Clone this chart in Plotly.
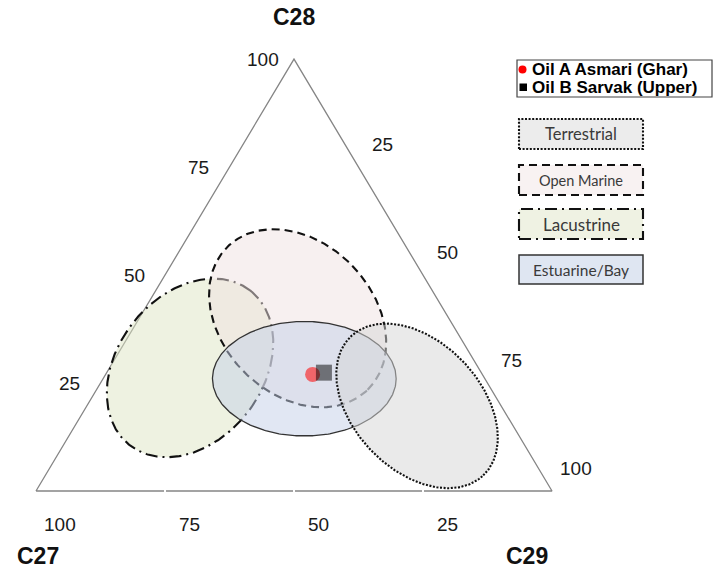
import numpy as np
import plotly.graph_objects as go

# ---------------------------------------------------------------
# Sterane distribution (C27 / C28 / C29, %) of the two oils
# ---------------------------------------------------------------
sample_names = ["Oil A Asmari (Ghar)", "Oil B Sarvak (Upper)"]
sample_c27 = [32.9, 30.5]
sample_c28 = [27.0, 27.4]
sample_c29 = [40.1, 42.1]

# Depositional-environment fields: centre composition (%)
field_names = ["Lacustrine", "Open Marine", "Estuarine/Bay", "Terrestrial"]
field_c27 = [55.9, 29.3, 35.0, 16.3]
field_c28 = [28.5, 40.0, 26.0, 19.7]
field_c29 = [15.6, 30.7, 39.0, 64.0]

# Axis tick values
tick_values = [25, 50, 75, 100]

# ---------------------------------------------------------------
# Geometry / styling
# ---------------------------------------------------------------
W, H = 713, 574
PX = 5.16            # pixels per composition unit
K = 0.837            # triangle height relative to its base
X0_PX, BASE_PX = 36, 491   # pixel position of the C27 corner

# field outline: semi-major, semi-minor (composition units), tilt (deg)
field_shape = {
    "Lacustrine":    (19.0, 14.1, 52.0),
    "Open Marine":   (19.4, 14.7, -45.6),
    "Estuarine/Bay": (17.8, 11.1, 0.0),
    "Terrestrial":   (18.6, 12.4, -46.4),
}
field_style = {
    "Lacustrine":    dict(fill="rgba(221,229,195,0.5)", line="#111111", width=2.1, dash="12px,5px,2px,5px"),
    "Open Marine":   dict(fill="rgba(239,225,225,0.5)", line="#111111", width=2.1, dash="8px,5px"),
    "Estuarine/Bay": dict(fill="rgba(195,207,232,0.5)", line="#333333", width=1.3, dash="solid"),
    "Terrestrial":   dict(fill="rgba(214,214,214,0.5)", line="#111111", width=2.1, dash="2px,1.6px"),
}
legend_box = {  # pixel boxes for the environment key (top, bottom, font size)
    "Terrestrial": (119, 149, 16.5),
    "Open Marine": (165, 195, 14.5),
    "Lacustrine": (209, 239, 17),
    "Estuarine/Bay": (255, 284, 15.5),
}
legend_order = ["Terrestrial", "Open Marine", "Lacustrine", "Estuarine/Bay"]
legend_fill = {
    "Terrestrial": "#ececec",
    "Open Marine": "#f8f2f2",
    "Lacustrine": "#eff2e3",
    "Estuarine/Bay": "#dfe6f2",
}


def to_xy(c27, c28, c29):
    c27, c28, c29 = (np.asarray(v, dtype=float) for v in (c27, c28, c29))
    tot = c27 + c28 + c29
    a, c = c28 / tot * 100, c29 / tot * 100
    return c + a / 2, a * K


def ellipse(cx, cy, a, b, ang):
    t = np.linspace(0, 2 * np.pi, 361)
    r = np.deg2rad(ang)
    x = cx + a * np.cos(t) * np.cos(r) - b * np.sin(t) * np.sin(r)
    y = cy + a * np.cos(t) * np.sin(r) + b * np.sin(t) * np.cos(r)
    return x, y


def px_x(p):
    return p / W


def px_y(p):
    return 1 - p / H


fig = go.Figure()

# triangle frame
corner_x, corner_y = to_xy([100, 0, 0, 100], [0, 100, 0, 0], [0, 0, 100, 0])
fig.add_trace(go.Scatter(x=corner_x, y=corner_y, mode="lines",
                         line=dict(color="#858585", width=1.3),
                         hoverinfo="skip", showlegend=False))

# environment fields
fx, fy = to_xy(field_c27, field_c28, field_c29)
for name, cx, cy in zip(field_names, fx, fy):
    a, b, ang = field_shape[name]
    ex, ey = ellipse(cx, cy, a, b, ang)
    st = field_style[name]
    fig.add_trace(go.Scatter(x=ex, y=ey, mode="lines", fill="toself",
                             fillcolor=st["fill"],
                             line=dict(color=st["line"], width=st["width"], dash=st["dash"]),
                             name=name, hoverinfo="name", showlegend=False))

# oil samples
sx, sy = to_xy(sample_c27, sample_c28, sample_c29)
fig.add_trace(go.Scatter(x=[sx[0]], y=[sy[0]], mode="markers", name=sample_names[0],
                         marker=dict(symbol="circle", size=15, color="rgba(255,0,0,0.55)",
                                     line=dict(width=0)),
                         showlegend=False))
fig.add_trace(go.Scatter(x=[sx[1]], y=[sy[1]], mode="markers", name=sample_names[1],
                         marker=dict(symbol="square", size=16, color="rgba(0,0,0,0.5)",
                                     line=dict(width=0)),
                         showlegend=False))

shapes = []
# white tick notches on the base line
for v in tick_values[:3]:
    bx, by = to_xy(100 - v, 0, v)
    shapes.append(dict(type="line", xref="x", yref="y", x0=float(bx), x1=float(bx),
                       y0=-0.45, y1=0.45, line=dict(color="white", width=2)))

annotations = []
tick_font = dict(family="Liberation Sans, Arial", size=19, color="#1a1a1a")
title_font = dict(family="Liberation Sans, Arial", size=23, color="#111111")

# C28 labels (left edge)
for v in tick_values:
    x, y = to_xy(100 - v, v, 0)
    annotations.append(dict(x=float(x), y=float(y), text=str(v), showarrow=False,
                            xshift=-31, yshift=0, font=tick_font))
# C29 labels (right edge)
for v in tick_values:
    x, y = to_xy(0, 100 - v, v)
    annotations.append(dict(x=float(x), y=float(y), text=str(v), showarrow=False,
                            xshift=24, yshift=23, font=tick_font))
# C27 labels (base)
for v in tick_values:
    x, y = to_xy(v, 0, 100 - v)
    annotations.append(dict(x=float(x), y=float(y), text=str(v), showarrow=False,
                            xshift=24, yshift=-33, font=tick_font))

# corner titles
for txt, comp, dx, dy in [("C28", (0, 100, 0), 0, 42),
                          ("C27", (100, 0, 0), 2, -65),
                          ("C29", (0, 0, 100), -25, -65)]:
    x, y = to_xy(*comp)
    annotations.append(dict(x=float(x), y=float(y), text="<b>%s</b>" % txt, showarrow=False,
                            xshift=dx, yshift=dy, font=title_font))

# sample key
shapes.append(dict(type="rect", xref="paper", yref="paper",
                   x0=px_x(517), x1=px_x(712), y0=px_y(97), y1=px_y(60),
                   line=dict(color="#444444", width=1.2), fillcolor="white"))
shapes.append(dict(type="circle", xref="paper", yref="paper",
                   x0=px_x(518.5), x1=px_x(526.5), y0=px_y(73.5), y1=px_y(65.5),
                   line=dict(width=0), fillcolor="#ff0000"))
shapes.append(dict(type="rect", xref="paper", yref="paper",
                   x0=px_x(519.5), x1=px_x(527), y0=px_y(91), y1=px_y(83.5),
                   line=dict(width=0), fillcolor="#000000"))
key_font = dict(family="Liberation Sans, Arial", size=17, color="#000000")
for name, yc in zip(sample_names, [69.2, 87.6]):
    annotations.append(dict(xref="paper", yref="paper", x=px_x(530), y=px_y(yc),
                            xanchor="left", yanchor="middle", text="<b>%s</b>" % name,
                            showarrow=False, font=key_font))

# environment key
for name in legend_order:
    top, bot, fsize = legend_box[name]
    st = field_style[name]
    shapes.append(dict(type="rect", xref="paper", yref="paper",
                       x0=px_x(519), x1=px_x(643), y0=px_y(bot), y1=px_y(top),
                       line=dict(color=st["line"], width=st["width"] if name != "Estuarine/Bay" else 1.5,
                                 dash=st["dash"]),
                       fillcolor=legend_fill[name]))
    annotations.append(dict(xref="paper", yref="paper", x=px_x(581), y=px_y((top + bot) / 2),
                            xanchor="center", yanchor="middle", text=name, showarrow=False,
                            font=dict(family="Lato", size=fsize, color="#3a3a3a")))

fig.update_layout(
    width=W, height=H,
    margin=dict(l=0, r=0, t=0, b=0),
    paper_bgcolor="white", plot_bgcolor="white",
    xaxis=dict(range=[-X0_PX / PX, (W - X0_PX) / PX], visible=False, fixedrange=True),
    yaxis=dict(range=[-(H - BASE_PX) / PX, BASE_PX / PX], visible=False, fixedrange=True),
    shapes=shapes, annotations=annotations,
    showlegend=False,
)

fig.write_html("out.html")
